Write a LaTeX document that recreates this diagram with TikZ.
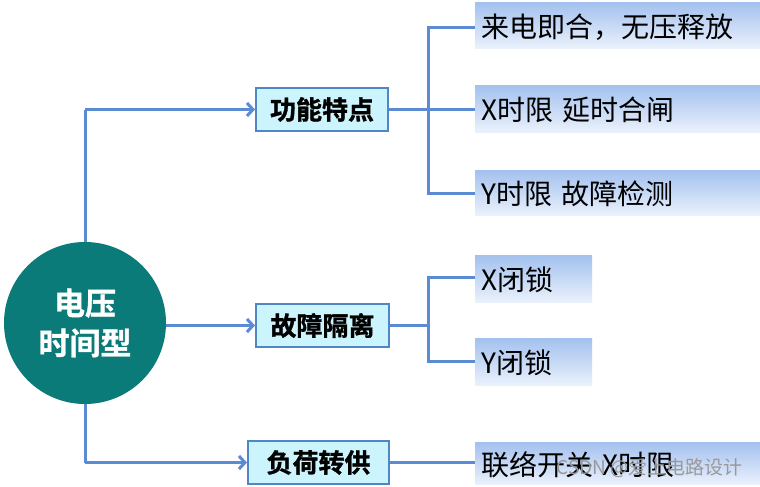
\documentclass[tikz,border=0pt]{standalone}
\usepackage{fontspec}
\newfontfamily\cjk{Noto Sans CJK SC}[BoldFont=* Bold, BoldFeatures={FakeBold=1.2}]
\usetikzlibrary{arrows.meta}
\definecolor{linec}{HTML}{5B8BD3}
\definecolor{teal0}{HTML}{0B7B79}
\definecolor{boxfill}{HTML}{CCF4FC}
\definecolor{boxedge}{HTML}{4F86C6}
\definecolor{gtop}{HTML}{A3C1EE}
\definecolor{gbot}{HTML}{EAF1FC}
\tikzset{
  conn/.style={draw=linec, line width=3pt},
  arr/.style={conn, -{Straight Barb[length=6pt,width=13pt,line width=3pt]}},
  hub/.style={circle, fill=teal0, minimum size=162pt, inner sep=0pt, text=white,
    font=\cjk\bfseries\fontsize{31}{40}\selectfont, align=center},
  midbox/.style={rectangle, draw=boxedge, line width=2pt, fill=boxfill,
    minimum height=43pt, inner sep=0pt, font=\cjk\bfseries\fontsize{26}{30}\selectfont},
  leaf/.style={rectangle, top color=gtop, bottom color=gbot, draw=none,
    inner sep=0pt, anchor=north west, text width=#1, minimum width=#1,
    font=\cjk\fontsize{28}{30}\selectfont, align=left, text depth=0pt},
}
\begin{document}
\begin{tikzpicture}[x=1pt, y=-1pt]
\useasboundingbox (0,0) rectangle (760,487);
\fill[white] (0,0) rectangle (760,487);
% hub
\node[hub] (c) at (85,323) {电压\\时间型};
% middle boxes
\node[midbox, minimum width=132pt] (b1) at (322,109.5) {功能特点};
\node[midbox, minimum width=133pt] (b2) at (322.5,325.5) {故障隔离};
\node[midbox, minimum width=141pt] (b3) at (318.5,462.5) {负荷转供};
% leaves
\node[leaf=285pt, minimum height=46pt] (l1) at (475,2) {\hspace{6pt}来电即合，无压释放};
\node[leaf=285pt, minimum height=47pt] (l2) at (475,85) {\hspace{6pt}X时限 延时合闸};
\node[leaf=285pt, minimum height=45pt] (l3) at (475,170) {\hspace{6pt}Y时限 故障检测};
\node[leaf=117pt, minimum height=47pt] (l4) at (475,255) {\hspace{6pt}X闭锁};
\node[leaf=117pt, minimum height=47pt] (l5) at (475,338) {\hspace{6pt}Y闭锁};
\node[leaf=285pt, minimum height=42pt] (l6) at (475,442) {\hspace{6pt}联络开关 X时限};
% coordinates
\coordinate (ct) at (85,109.5);
\coordinate (cb) at (85,462.5);
\coordinate (j1) at (428,109.5);
\coordinate (j2) at (428,325.5);
% hub connectors
\draw[conn] (c.north) -- (ct);
\draw[arr] (ct) -- (b1.west);
\draw[conn] (c.south) -- (cb);
\draw[arr] (cb) -- (b3.west);
\draw[arr] (c.east |- b2) -- (b2.west);
% group 1
\draw[conn] (b1.east) -- (j1);
\draw[conn] (l1.west |- 0,28) -| (428,193) -- (l3.west |- 0,193);
\draw[conn] (j1) -- (l2.west |- j1);
% group 2
\draw[conn] (b2.east) -- (j2);
\draw[conn] (l4.west |- 0,277) -| (428,361) -- (l5.west |- 0,361);
% group 3
\draw[conn] (b3.east) -- (l6.west |- b3);
% watermark
\node[anchor=west, text=black!40, font=\cjk\fontsize{19}{20}\selectfont] (wm) at (553,468) {CSDN @爱上电路设计};
\end{tikzpicture}
\end{document}
